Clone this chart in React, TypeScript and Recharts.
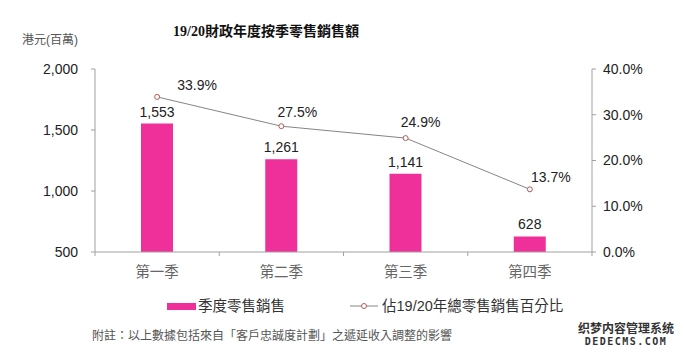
import React from "react";
import {
  ComposedChart,
  Bar,
  Line,
  XAxis,
  YAxis,
  LabelList,
} from "recharts";

const categories = ["第一季", "第二季", "第三季", "第四季"];
const salesValues = [1553, 1261, 1141, 628];
const shareValues = [33.9, 27.5, 24.9, 13.7];
const leftTicks = [500, 1000, 1500, 2000];
const rightTicks = [0, 10, 20, 30, 40];
const seriesNames = ["季度零售銷售", "佔19/20年總零售銷售百分比"];

const data = categories.map((c, i) => ({
  name: c,
  sales: salesValues[i],
  share: shareValues[i],
}));

const PINK = "#F0309A";
const LINE = "#858585";
const DOT = "#B55A5A";
const AXIS = "#A0A0A0";
const FONT = "Arial, 'Liberation Sans', 'Noto Sans CJK TC', sans-serif";
const CJK = "'Liberation Sans', 'Noto Sans CJK TC', sans-serif";

const shareLabelDx = [40, 16, 15, 21];
const shareLabelDy = [-12, -14, -16, -12];

const fmt = (v: number) => v.toLocaleString("en-US");

const XTick = (props: any) => {
  const { x, y, payload, index } = props;
  const half = 62.1;
  return (
    <g>
      <line x1={x - half} x2={x - half} y1={y - 8} y2={y - 4} stroke={AXIS} />
      {index === 3 && (
        <line x1={x + half} x2={x + half} y1={y - 8} y2={y - 4} stroke={AXIS} />
      )}
      <text
        x={x}
        y={y + 12}
        textAnchor="middle"
        dominantBaseline="central"
        fill="#666"
        fontSize={14.5}
        fontFamily={CJK}
      >
        {payload.value}
      </text>
    </g>
  );
};

const ShareLabel = (props: any) => {
  const { x, y, value, index } = props;
  return (
    <text
      x={x + shareLabelDx[index]}
      y={y + shareLabelDy[index]}
      textAnchor="middle"
      dominantBaseline="central"
      fontSize={14}
      fontFamily={FONT}
      fill="#222"
    >
      {value.toFixed(1)}%
    </text>
  );
};

const LegendBlock = () => (
  <div
    style={{
      position: "absolute",
      left: 0,
      top: 295,
      width: 685,
      height: 24,
      fontFamily: CJK,
      fontSize: 14.5,
      color: "#333",
    }}
  >
    <div
      style={{
        position: "absolute",
        left: 167,
        top: 8,
        width: 29,
        height: 7,
        background: PINK,
      }}
    />
    <div style={{ position: "absolute", left: 198, top: 1, lineHeight: "20px" }}>
      {seriesNames[0]}
    </div>
    <svg
      style={{ position: "absolute", left: 349, top: 6 }}
      width={30}
      height={10}
    >
      <line x1={1} x2={29} y1={5} y2={5} stroke={LINE} strokeWidth={1} />
      <circle cx={15} cy={5} r={2.5} fill="#fff" stroke={DOT} strokeWidth={1} />
    </svg>
    <div style={{ position: "absolute", left: 382, top: 1, lineHeight: "20px" }}>
      {seriesNames[1]}
    </div>
  </div>
);

export default function App() {
  return (
    <div
      style={{
        position: "absolute",
        left: 0,
        top: 0,
        width: 685,
        height: 358,
        background: "#fff",
        overflow: "hidden",
      }}
    >
      <div
        style={{
          position: "absolute",
          left: 0,
          width: 532,
          top: 22,
          lineHeight: "20px",
          textAlign: "center",
          fontFamily: "'Liberation Serif', 'Noto Sans CJK TC', serif",
          fontWeight: "bold",
          fontSize: 14,
          color: "#111",
        }}
      >
        19/20財政年度按季零售銷售額
      </div>
      <div
        style={{
          position: "absolute",
          left: 22,
          top: 30,
          lineHeight: "20px",
          fontFamily: CJK,
          fontSize: 12,
          color: "#555",
        }}
      >
        港元(百萬)
      </div>
      <ComposedChart
        width={685}
        height={358}
        data={data}
        margin={{ top: 69, right: 33, bottom: 76, left: 35 }}
        barCategoryGap={0}
      >
        <XAxis
          dataKey="name"
          xAxisId="x"
          axisLine={{ stroke: AXIS }}
          tickLine={false}
          tick={<XTick />}
          height={30}
          interval={0}
        />
        <YAxis
          yAxisId="left"
          orientation="left"
          domain={[500, 2000]}
          ticks={leftTicks}
          width={60}
          axisLine={{ stroke: AXIS }}
          tickLine={{ stroke: AXIS }}
          tickSize={4}
          tickMargin={13}
          tickFormatter={fmt}
          tick={{ fontSize: 14, fill: "#222", fontFamily: FONT }}
          allowDataOverflow
        />
        <YAxis
          yAxisId="right"
          orientation="right"
          domain={[0, 40]}
          ticks={rightTicks}
          width={60}
          axisLine={{ stroke: AXIS }}
          tickLine={{ stroke: AXIS }}
          tickSize={4}
          tickMargin={7}
          tickFormatter={(v: number) => `${v.toFixed(1)}%`}
          tick={{ fontSize: 14, fill: "#222", fontFamily: FONT }}
        />
        <Bar
          dataKey="sales"
          name={seriesNames[0]}
          xAxisId="x"
          yAxisId="left"
          fill={PINK}
          barSize={32}
          isAnimationActive={false}
        >
          <LabelList
            dataKey="sales"
            position="top"
            offset={7}
            formatter={fmt}
            style={{ fontSize: 14, fill: "#222", fontFamily: FONT }}
          />
        </Bar>
        <Line
          dataKey="share"
          name={seriesNames[1]}
          xAxisId="x"
          yAxisId="right"
          stroke={LINE}
          strokeWidth={1}
          dot={{ r: 2.5, fill: "#fff", stroke: DOT, strokeWidth: 1 }}
          activeDot={false}
          isAnimationActive={false}
        >
          <LabelList dataKey="share" content={<ShareLabel />} />
        </Line>
      </ComposedChart>
      <LegendBlock />
      <div
        style={{
          position: "absolute",
          left: 92,
          top: 327,
          lineHeight: "18px",
          fontFamily: CJK,
          fontSize: 12,
          color: "#555",
          whiteSpace: "nowrap",
        }}
      >
        附註：以上數據包括來自「客戶忠誠度計劃」之遞延收入調整的影響
      </div>
      <div
        style={{
          position: "absolute",
          left: 576,
          top: 321,
          width: 100,
          textAlign: "center",
          fontFamily: "'Noto Sans CJK SC', sans-serif",
          fontWeight: "bold",
          color: "#333",
          lineHeight: "14px",
        }}
      >
        <div style={{ fontSize: 12 }}>织梦内容管理系统</div>
        <div style={{ fontSize: 10, letterSpacing: 1.5, fontFamily: "'DejaVu Sans Mono', monospace" }}>
          DEDECMS.COM
        </div>
      </div>
    </div>
  );
}
